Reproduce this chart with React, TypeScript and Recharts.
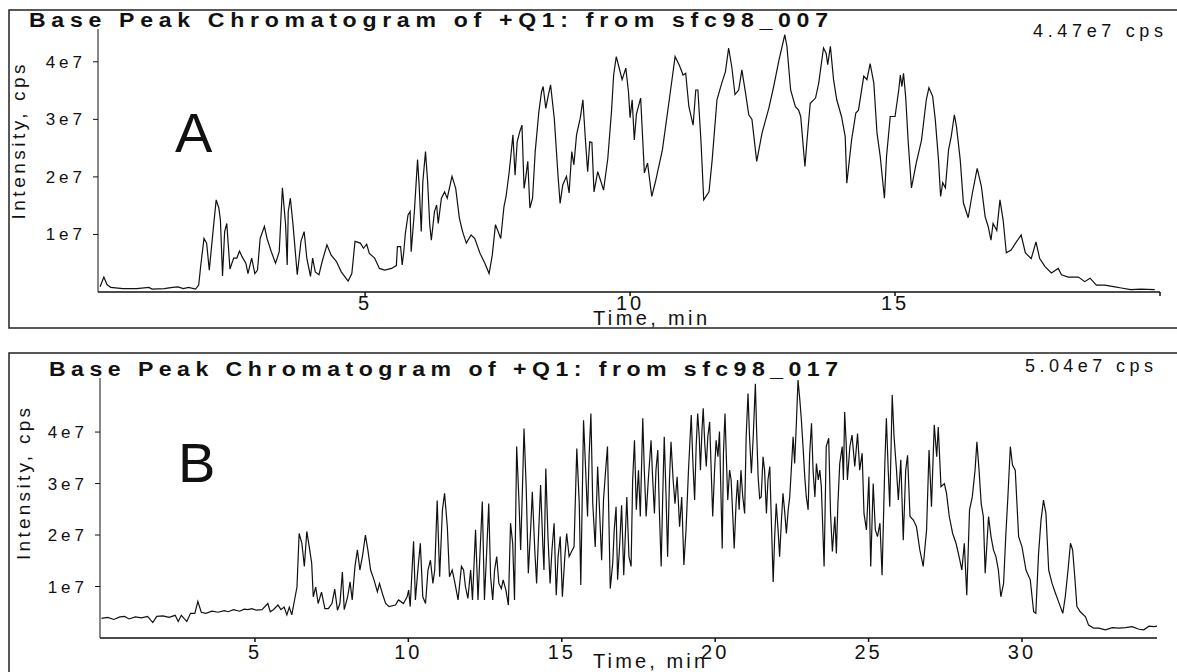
import { LineChart, Line, XAxis, YAxis } from 'recharts';

const FONT = '"Liberation Sans", Arial, Helvetica, sans-serif';
const INK = '#111';

// Run A (sfc98_007): [time in min, intensity in 1e7 cps]
const scanA: [number, number][] = [
  [0, 0.09], [0.07, 0.26], [0.13, 0.13], [0.2, 0.08], [0.43, 0.06], [0.69, 0.06], [0.92, 0.08], [0.98, 0.05],
  [1.21, 0.06], [1.37, 0.08], [1.47, 0.09], [1.57, 0.06], [1.67, 0.08], [1.8, 0.05], [1.86, 0.12], [1.9, 0.47],
  [1.96, 0.93], [2.01, 0.85], [2.06, 0.38], [2.13, 1.05], [2.19, 1.6], [2.24, 1.46], [2.27, 1.25], [2.31, 0.28],
  [2.35, 1.05], [2.39, 1.19], [2.45, 0.4], [2.52, 0.59], [2.58, 0.59], [2.63, 0.71], [2.68, 0.61], [2.75, 0.5],
  [2.79, 0.32], [2.86, 0.59], [2.92, 0.32], [2.97, 0.38], [3.02, 0.93], [3.1, 1.14], [3.15, 0.93], [3.23, 0.7],
  [3.31, 0.5], [3.38, 0.7], [3.44, 1.81], [3.5, 1.17], [3.53, 0.47], [3.55, 1.4], [3.59, 1.63], [3.64, 1.17],
  [3.72, 0.3], [3.79, 0.88], [3.85, 1.05], [3.9, 0.59], [3.97, 0.27], [4.01, 0.59], [4.06, 0.35], [4.13, 0.3],
  [4.19, 0.53], [4.28, 0.82], [4.36, 0.64], [4.46, 0.53], [4.55, 0.35], [4.68, 0.19], [4.75, 0.32], [4.81, 0.88],
  [4.91, 0.85], [4.97, 0.76], [5.03, 0.83], [5.08, 0.67], [5.18, 0.59], [5.27, 0.41], [5.37, 0.38], [5.5, 0.41],
  [5.59, 0.46], [5.61, 0.79], [5.67, 0.79], [5.7, 0.47], [5.73, 0.7], [5.76, 1.02], [5.81, 1.34], [5.85, 1.4],
  [5.87, 0.7], [5.93, 1.4], [5.99, 2.3], [6.02, 1.86], [6.06, 1.05], [6.09, 1.92], [6.14, 2.44], [6.18, 1.92],
  [6.22, 1.17], [6.25, 0.9], [6.31, 1.4], [6.35, 1.51], [6.38, 1.19], [6.44, 1.63], [6.5, 1.74], [6.55, 1.63],
  [6.64, 2.01], [6.71, 1.8], [6.78, 1.28], [6.84, 1.05], [6.91, 0.85], [7.0, 0.99], [7.07, 0.93], [7.17, 0.67],
  [7.26, 0.5], [7.34, 0.32], [7.4, 0.64], [7.46, 1.17], [7.51, 1.05], [7.56, 0.93], [7.62, 1.48], [7.66, 1.66],
  [7.72, 2.09], [7.79, 2.73], [7.83, 2.03], [7.87, 2.61], [7.92, 2.79], [7.96, 2.9], [8.0, 1.8], [8.03, 1.98],
  [8.07, 2.27], [8.11, 1.46], [8.16, 1.63], [8.21, 2.44], [8.28, 3.14], [8.33, 3.48], [8.36, 3.57], [8.41, 3.19],
  [8.46, 3.43], [8.5, 3.6], [8.57, 3.02], [8.64, 2.03], [8.68, 1.54], [8.73, 1.86], [8.8, 2.01], [8.85, 1.72],
  [8.9, 2.44], [8.94, 2.21], [8.99, 2.73], [9.06, 3.02], [9.11, 3.34], [9.16, 2.61], [9.2, 2.09], [9.24, 2.61],
  [9.28, 2.6], [9.32, 1.74], [9.39, 2.09], [9.45, 1.92], [9.5, 1.77], [9.58, 2.32], [9.65, 3.14], [9.69, 3.77],
  [9.74, 4.09], [9.79, 3.91], [9.85, 3.69], [9.92, 3.89], [9.97, 3.48], [10.0, 3.03], [10.04, 3.34], [10.08, 2.64],
  [10.12, 3.09], [10.2, 3.37], [10.27, 2.07], [10.33, 2.24], [10.41, 1.66], [10.48, 1.92], [10.61, 2.47], [10.74, 3.34],
  [10.85, 4.09], [10.93, 3.94], [11.0, 3.77], [11.05, 3.8], [11.11, 3.22], [11.19, 2.9], [11.24, 3.51], [11.28, 3.51],
  [11.34, 2.59], [11.39, 1.6], [11.49, 1.74], [11.55, 2.3], [11.64, 3.34], [11.73, 3.63], [11.8, 3.83], [11.86, 4.24],
  [11.92, 3.91], [11.98, 3.43], [12.05, 3.51], [12.11, 3.86], [12.18, 3.45], [12.24, 3.08], [12.3, 3.0], [12.39, 2.27],
  [12.49, 2.76], [12.62, 3.2], [12.71, 3.57], [12.81, 4.03], [12.92, 4.47], [12.96, 4.27], [13.03, 3.51], [13.12, 3.22],
  [13.18, 3.16], [13.22, 3.05], [13.3, 2.18], [13.34, 2.64], [13.4, 3.28], [13.5, 3.37], [13.56, 3.63], [13.65, 4.24],
  [13.7, 4.15], [13.73, 3.95], [13.78, 4.27], [13.84, 3.69], [13.9, 3.34], [13.99, 3.05], [14.06, 2.7], [14.09, 1.89],
  [14.18, 2.64], [14.26, 3.11], [14.31, 3.16], [14.41, 3.75], [14.47, 3.69], [14.53, 3.97], [14.6, 3.63], [14.66, 2.76],
  [14.72, 2.36], [14.8, 1.63], [14.84, 2.36], [14.91, 3.05], [15.0, 3.05], [15.07, 3.51], [15.1, 3.77], [15.13, 3.57],
  [15.16, 3.8], [15.2, 3.4], [15.25, 2.59], [15.31, 1.81], [15.4, 2.24], [15.5, 2.64], [15.59, 3.34], [15.64, 3.55],
  [15.71, 3.4], [15.76, 2.99], [15.82, 2.3], [15.86, 1.66], [15.9, 1.9], [15.95, 1.81], [16.01, 2.47], [16.06, 2.7],
  [16.12, 3.08], [16.16, 2.87], [16.23, 2.3], [16.29, 1.55], [16.38, 1.29], [16.46, 1.72], [16.55, 2.15], [16.63, 1.83],
  [16.7, 1.31], [16.76, 1.13], [16.81, 0.9], [16.85, 1.19], [16.92, 1.07], [16.98, 1.6], [17.04, 1.25], [17.1, 0.68],
  [17.19, 0.73], [17.29, 0.87], [17.38, 0.99], [17.46, 0.68], [17.57, 0.58], [17.66, 0.87], [17.73, 0.58], [17.83, 0.44],
  [17.95, 0.33], [18.08, 0.41], [18.14, 0.3], [18.27, 0.26], [18.46, 0.26], [18.58, 0.18], [18.68, 0.24], [18.8, 0.12],
  [18.96, 0.12], [19.15, 0.09], [19.27, 0.07], [19.45, 0.04], [19.64, 0.05], [19.9, 0.04],
];

// Run B (sfc98_017): [time in min, intensity in 1e7 cps]
const scanB: [number, number][] = [
  [0, 0.38], [0.2, 0.4], [0.4, 0.36], [0.6, 0.41], [0.75, 0.42], [0.9, 0.37], [1.1, 0.41], [1.3, 0.39],
  [1.5, 0.42], [1.67, 0.3], [1.8, 0.42], [2.0, 0.43], [2.2, 0.4], [2.4, 0.44], [2.5, 0.32], [2.6, 0.44],
  [2.78, 0.32], [2.9, 0.48], [3.04, 0.48], [3.14, 0.71], [3.25, 0.5], [3.4, 0.48], [3.6, 0.52], [3.8, 0.5],
  [4.0, 0.53], [4.13, 0.51], [4.3, 0.55], [4.5, 0.52], [4.65, 0.56], [4.77, 0.55], [4.9, 0.57], [5.05, 0.54],
  [5.23, 0.55], [5.42, 0.67], [5.5, 0.51], [5.6, 0.55], [5.75, 0.64], [5.85, 0.55], [5.95, 0.6], [6.04, 0.45],
  [6.12, 0.6], [6.2, 0.45], [6.27, 0.67], [6.37, 0.99], [6.44, 2.03], [6.53, 1.84], [6.61, 1.39], [6.69, 2.07],
  [6.77, 1.77], [6.85, 1.45], [6.9, 0.8], [6.98, 0.99], [7.06, 0.67], [7.17, 0.89], [7.28, 0.57], [7.39, 0.57],
  [7.51, 0.67], [7.6, 0.95], [7.69, 0.54], [7.77, 0.67], [7.85, 1.28], [7.91, 0.55], [8.02, 0.8], [8.1, 1.09],
  [8.17, 0.74], [8.26, 1.39], [8.34, 1.71], [8.42, 1.32], [8.51, 1.61], [8.6, 2.0], [8.68, 1.71], [8.77, 1.32],
  [8.88, 1.13], [8.99, 0.9], [9.06, 1.06], [9.15, 0.87], [9.26, 0.67], [9.37, 0.61], [9.58, 0.64], [9.68, 0.74],
  [9.84, 0.67], [9.96, 0.8], [10.01, 0.93], [10.06, 0.61], [10.12, 1.32], [10.17, 1.88], [10.23, 0.74], [10.31, 1.32],
  [10.39, 1.84], [10.47, 0.8], [10.56, 0.67], [10.64, 1.32], [10.72, 1.51], [10.8, 1.06], [10.86, 1.32], [10.94, 2.67],
  [11.02, 1.19], [11.11, 2.49], [11.18, 2.81], [11.27, 2.16], [11.34, 1.19], [11.43, 1.32], [11.52, 1.06], [11.62, 0.74],
  [11.73, 1.39], [11.8, 1.32], [11.86, 1.0], [11.94, 0.77], [12.03, 1.32], [12.09, 0.74], [12.19, 2.1], [12.27, 0.74],
  [12.33, 1.58], [12.41, 2.65], [12.48, 0.74], [12.55, 1.64], [12.62, 2.61], [12.68, 1.19], [12.75, 0.74], [12.81, 1.32],
  [12.88, 1.58], [12.95, 1.06], [13.03, 0.96], [13.09, 1.13], [13.18, 0.93], [13.26, 0.64], [13.33, 2.23], [13.4, 1.84],
  [13.46, 0.74], [13.53, 3.72], [13.6, 2.74], [13.66, 1.71], [13.72, 2.94], [13.77, 4.07], [13.84, 2.94], [13.91, 1.26],
  [13.99, 2.16], [14.04, 2.84], [14.12, 1.71], [14.18, 1.06], [14.25, 2.1], [14.31, 2.97], [14.38, 1.84], [14.42, 1.32],
  [14.48, 3.29], [14.55, 1.97], [14.62, 1.06], [14.68, 1.71], [14.75, 2.23], [14.82, 0.83], [14.88, 1.58], [14.95, 1.97],
  [15.02, 0.8], [15.1, 1.58], [15.16, 2.03], [15.24, 1.58], [15.32, 1.68], [15.4, 1.77], [15.49, 3.68], [15.57, 2.61],
  [15.62, 1.03], [15.71, 4.23], [15.77, 3.39], [15.84, 2.36], [15.89, 3.52], [15.95, 4.36], [16.01, 2.61], [16.09, 1.77],
  [16.17, 3.33], [16.23, 2.49], [16.3, 1.51], [16.36, 2.68], [16.43, 3.26], [16.49, 3.72], [16.58, 0.96], [16.66, 1.45],
  [16.71, 2.1], [16.77, 2.55], [16.82, 1.13], [16.89, 1.84], [16.95, 2.58], [17.02, 1.22], [17.07, 1.97], [17.12, 2.74],
  [17.19, 1.58], [17.26, 1.39], [17.31, 3.07], [17.37, 3.84], [17.43, 2.49], [17.5, 3.26], [17.56, 2.36], [17.64, 4.27],
  [17.69, 3.26], [17.75, 2.36], [17.82, 3.07], [17.91, 3.84], [17.96, 3.13], [18.02, 2.42], [18.07, 3.26], [18.13, 3.65],
  [18.18, 2.49], [18.24, 1.39], [18.29, 2.74], [18.34, 3.91], [18.4, 2.74], [18.45, 1.58], [18.51, 3.07], [18.56, 3.81],
  [18.63, 3.07], [18.69, 2.61], [18.76, 3.13], [18.84, 2.16], [18.91, 2.74], [18.98, 1.42], [19.05, 2.1], [19.13, 3.26],
  [19.22, 4.33], [19.27, 3.46], [19.33, 2.68], [19.38, 3.72], [19.43, 4.36], [19.48, 3.91], [19.52, 3.26], [19.57, 4.04],
  [19.61, 4.46], [19.66, 3.78], [19.71, 3.33], [19.76, 3.91], [19.82, 4.2], [19.87, 3.26], [19.92, 2.36], [19.98, 3.26],
  [20.03, 3.84], [20.09, 3.52], [20.14, 4.01], [20.19, 2.74], [20.23, 1.74], [20.27, 3.59], [20.32, 4.36], [20.37, 3.39],
  [20.41, 2.68], [20.47, 3.26], [20.52, 3.07], [20.58, 2.29], [20.62, 1.74], [20.68, 2.61], [20.73, 3.07], [20.78, 2.49],
  [20.84, 3.26], [20.9, 2.74], [20.96, 2.42], [21.01, 3.91], [21.07, 4.75], [21.12, 3.91], [21.18, 3.2], [21.24, 3.91],
  [21.31, 4.94], [21.35, 4.04], [21.4, 3.13], [21.45, 2.71], [21.5, 2.74], [21.56, 3.52], [21.61, 3.26], [21.67, 2.42],
  [21.72, 3.07], [21.78, 3.33], [21.83, 2.29], [21.89, 1.09], [21.94, 1.97], [21.99, 2.61], [22.05, 2.1], [22.1, 1.58],
  [22.16, 2.29], [22.21, 2.81], [22.27, 2.42], [22.32, 2.03], [22.38, 2.49], [22.43, 2.74], [22.48, 3.26], [22.54, 3.91],
  [22.59, 3.39], [22.65, 4.23], [22.7, 5.01], [22.76, 4.62], [22.81, 4.23], [22.87, 3.65], [22.92, 3.13], [22.97, 2.74],
  [23.03, 2.49], [23.08, 3.59], [23.14, 4.17], [23.19, 3.26], [23.25, 2.74], [23.3, 3.39], [23.36, 3.07], [23.41, 3.26],
  [23.46, 2.94], [23.55, 1.39], [23.62, 3.72], [23.7, 3.88], [23.76, 2.42], [23.82, 1.68], [23.9, 2.36], [23.95, 1.64],
  [24.0, 2.61], [24.06, 3.39], [24.14, 3.72], [24.18, 3.07], [24.22, 4.39], [24.27, 3.78], [24.31, 3.07], [24.39, 3.72],
  [24.46, 3.94], [24.55, 3.33], [24.64, 3.97], [24.71, 3.26], [24.79, 3.59], [24.85, 2.42], [24.93, 2.1], [25.01, 3.13],
  [25.07, 1.39], [25.15, 3.0], [25.22, 2.1], [25.29, 1.97], [25.37, 2.23], [25.44, 1.22], [25.53, 3.39], [25.58, 4.27],
  [25.64, 3.26], [25.69, 2.55], [25.77, 4.72], [25.83, 3.91], [25.91, 3.26], [25.97, 2.68], [26.05, 3.46], [26.13, 1.9],
  [26.21, 3.26], [26.27, 3.55], [26.35, 2.36], [26.46, 2.29], [26.56, 2.16], [26.67, 1.71], [26.78, 1.39], [26.89, 2.1],
  [26.97, 3.65], [27.05, 2.55], [27.14, 4.14], [27.22, 3.52], [27.27, 4.1], [27.36, 2.94], [27.47, 3.0], [27.54, 2.81],
  [27.63, 2.36], [27.74, 2.03], [27.85, 1.84], [27.95, 1.58], [28.04, 1.32], [28.12, 1.84], [28.2, 0.83], [28.29, 2.49],
  [28.38, 2.74], [28.47, 3.26], [28.53, 3.81], [28.6, 3.26], [28.67, 2.61], [28.74, 2.36], [28.8, 1.26], [28.91, 2.36],
  [28.99, 1.97], [29.07, 1.71], [29.15, 1.58], [29.23, 1.32], [29.31, 0.8], [29.4, 1.06], [29.47, 1.97], [29.54, 2.74],
  [29.62, 3.72], [29.69, 3.36], [29.78, 3.26], [29.89, 1.97], [30.0, 1.77], [30.13, 1.32], [30.27, 1.13], [30.38, 0.51],
  [30.45, 0.48], [30.54, 1.64], [30.62, 2.29], [30.7, 2.68], [30.78, 2.42], [30.87, 1.32], [30.98, 1.06], [31.09, 0.87],
  [31.17, 0.74], [31.25, 0.61], [31.33, 0.48], [31.41, 0.8], [31.5, 1.32], [31.58, 1.84], [31.65, 1.71], [31.72, 1.19],
  [31.79, 0.61], [31.9, 0.51], [32.07, 0.41], [32.17, 0.25], [32.34, 0.19], [32.5, 0.19], [32.72, 0.16], [32.94, 0.2],
  [33.16, 0.19], [33.37, 0.2], [33.59, 0.22], [33.81, 0.17], [33.97, 0.16], [34.14, 0.23], [34.3, 0.22], [34.4, 0.23],
];

const timeTicksA = [5, 10, 15, 20];
const timeTicksB = [5, 10, 15, 20, 25, 30];
const intensityTicks = [1, 2, 3, 4];

const titleA = 'Base Peak Chromatogram of +Q1: from sfc98_007';
const titleB = 'Base Peak Chromatogram of +Q1: from sfc98_017';
const maxLabelA = '4.47e7 cps';
const maxLabelB = '5.04e7 cps';

interface ChromProps {
  scan: [number, number][];
  tMin: number;
  tMax: number;
  yMax: number;
  timeTicks: number[];
  height: number;
  margin: { top: number; right: number; bottom: number; left: number };
  tickGap: number;
}

const Chromatogram = ({ scan, tMin, tMax, yMax, timeTicks, height, margin, tickGap }: ChromProps) => {
  const rows = scan.map(([t, v]) => ({ t, v }));
  return (
    <LineChart width={1177} height={height} data={rows} margin={margin}>
      <XAxis
        type="number"
        dataKey="t"
        domain={[tMin, tMax]}
        ticks={timeTicks}
        interval={0}
        allowDataOverflow
        height={30}
        tickSize={4}
        tickMargin={tickGap}
        stroke={INK}
        strokeWidth={1.5}
        tickFormatter={(v: number) => (v >= tMax ? '' : String(v))}
        tick={{ fontSize: 20, fill: INK, fontFamily: FONT, letterSpacing: 3 }}
      />
      <YAxis
        type="number"
        domain={[0, yMax]}
        ticks={intensityTicks}
        interval={0}
        allowDataOverflow
        width={60}
        tickSize={5}
        tickMargin={7}
        stroke={INK}
        tickFormatter={(v: number) => `${v}e7`}
        tick={{ fontSize: 17, fill: INK, fontFamily: FONT, letterSpacing: 4 }}
      />
      <Line
        type="linear"
        dataKey="v"
        stroke={INK}
        strokeWidth={1.2}
        dot={false}
        isAnimationActive={false}
      />
    </LineChart>
  );
};

// the scanned titles are wide, short and letter-spaced
const WideTitle = ({ x, y, width, children }: { x: number; y: number; width: number; children: string }) => (
  <text
    transform={`translate(${x} ${y}) scale(1.1 1)`}
    fontSize={21}
    fontWeight="bold"
    textLength={width / 1.1}
    lengthAdjust="spacing"
  >
    {children}
  </text>
);

export default function App() {
  return (
    <div
      style={{
        position: 'absolute',
        left: 0,
        top: 0,
        width: 1177,
        height: 672,
        background: '#fff',
        overflow: 'hidden',
        fontFamily: FONT,
      }}
    >
      <div style={{ position: 'absolute', left: 0, top: 0 }}>
        <Chromatogram
          scan={scanA}
          tMin={-0.04}
          tMax={20}
          yMax={4.57}
          timeTicks={timeTicksA}
          height={330}
          margin={{ top: 29, right: 17, bottom: 8, left: 38 }}
          tickGap={0}
        />
      </div>
      <div style={{ position: 'absolute', left: 0, top: 335 }}>
        <Chromatogram
          scan={scanB}
          tMin={-0.05}
          tMax={34.4}
          yMax={5.05}
          timeTicks={timeTicksB}
          height={337}
          margin={{ top: 43, right: 20, bottom: 4, left: 40 }}
          tickGap={3}
        />
      </div>

      <svg
        width={1177}
        height={672}
        style={{ position: 'absolute', left: 0, top: 0, pointerEvents: 'none' }}
        fontFamily={FONT}
        fill={INK}
      >
        {/* panel frames, right side runs off the page */}
        <path d="M1180 10 H9 V328 H1180" fill="none" stroke="#222" strokeWidth={1.5} />
        <path d="M1180 353 H9 V680" fill="none" stroke="#222" strokeWidth={1.5} />

        <WideTitle x={29} y={27} width={799}>{titleA}</WideTitle>
        <text x={1033} y={37} fontSize={18} textLength={130} lengthAdjust="spacing">
          {maxLabelA}
        </text>
        <text x={175} y={152} fontSize={56}>A</text>
        <text
          x={25}
          y={142}
          fontSize={19}
          textAnchor="middle"
          textLength={155}
          lengthAdjust="spacing"
          transform="rotate(-90 25 142)"
        >
          Intensity, cps
        </text>
        <text x={650} y={325} fontSize={20} textAnchor="middle" textLength={114} lengthAdjust="spacing">
          Time, min
        </text>

        <WideTitle x={49} y={376} width={789}>{titleB}</WideTitle>
        <text x={1025} y={372} fontSize={18} textLength={128} lengthAdjust="spacing">
          {maxLabelB}
        </text>
        <text x={178} y={482} fontSize={56}>B</text>
        <text
          x={30}
          y={484}
          fontSize={19}
          textAnchor="middle"
          textLength={152}
          lengthAdjust="spacing"
          transform="rotate(-90 30 484)"
        >
          Intensity, cps
        </text>
        <text x={649} y={668} fontSize={20} textAnchor="middle" textLength={112} lengthAdjust="spacing">
          Time, min
        </text>
      </svg>
    </div>
  );
}
